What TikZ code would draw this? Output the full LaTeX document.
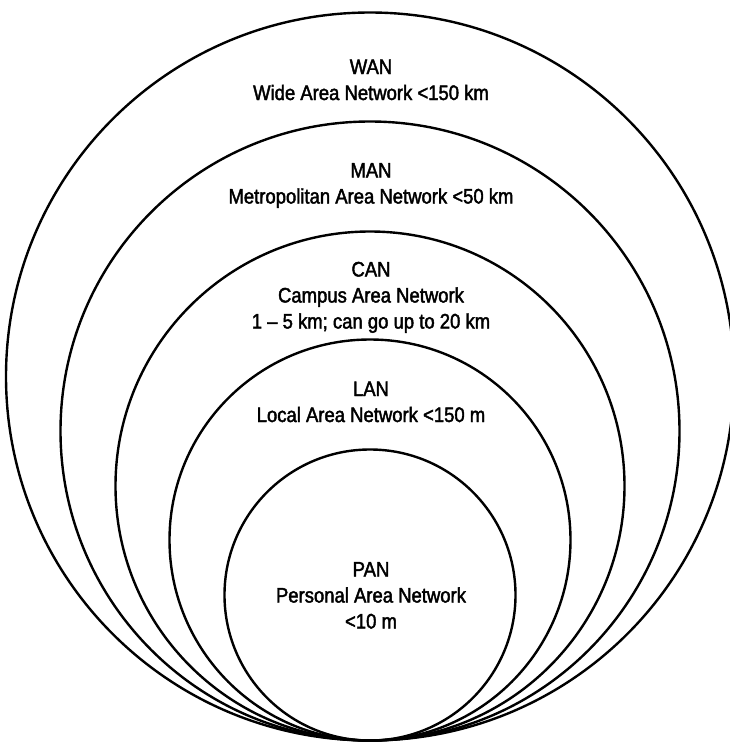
\documentclass[tikz,border=0pt]{standalone}
\usepackage{fontspec}
\setmainfont[FakeStretch=0.88,FakeBold=2]{Liberation Sans}
\begin{document}
\begin{tikzpicture}[x=1pt,y=-1pt,
  ring/.style={draw=black,line width=2.4pt},
  lbl/.style={align=center,inner sep=0pt,text height=15pt,text depth=0pt,
    font=\fontsize{21}{26}\selectfont}]
\useasboundingbox (0,0) rectangle (730,742);
\def\bx{370}
\def\by{740.5}
\draw[ring] (\bx,\by-364) circle[radius=364pt];
\draw[ring] (\bx,\by-309.5) circle[radius=309.5pt];
\draw[ring] (\bx,\by-254.5) circle[radius=254.5pt];
\draw[ring] (\bx,\by-200.5) circle[radius=200.5pt];
\draw[ring] (\bx,\by-145.5) circle[radius=145.5pt];
\node[lbl] (wan) at (371,92.5) {WAN\\Wide Area Network <150 km};
\node[lbl] (man) at (371,196) {MAN\\Metropolitan Area Network <50 km};
\node[lbl] (can) at (371,321) {CAN\\Campus Area Network\\1 – 5 km; can go up to 20 km};
\node[lbl] (lan) at (371,414.5) {LAN\\Local Area Network <150 m};
\node[lbl] (pan) at (371,621) {PAN\\Personal Area Network\\<10 m};
\end{tikzpicture}
\end{document}
